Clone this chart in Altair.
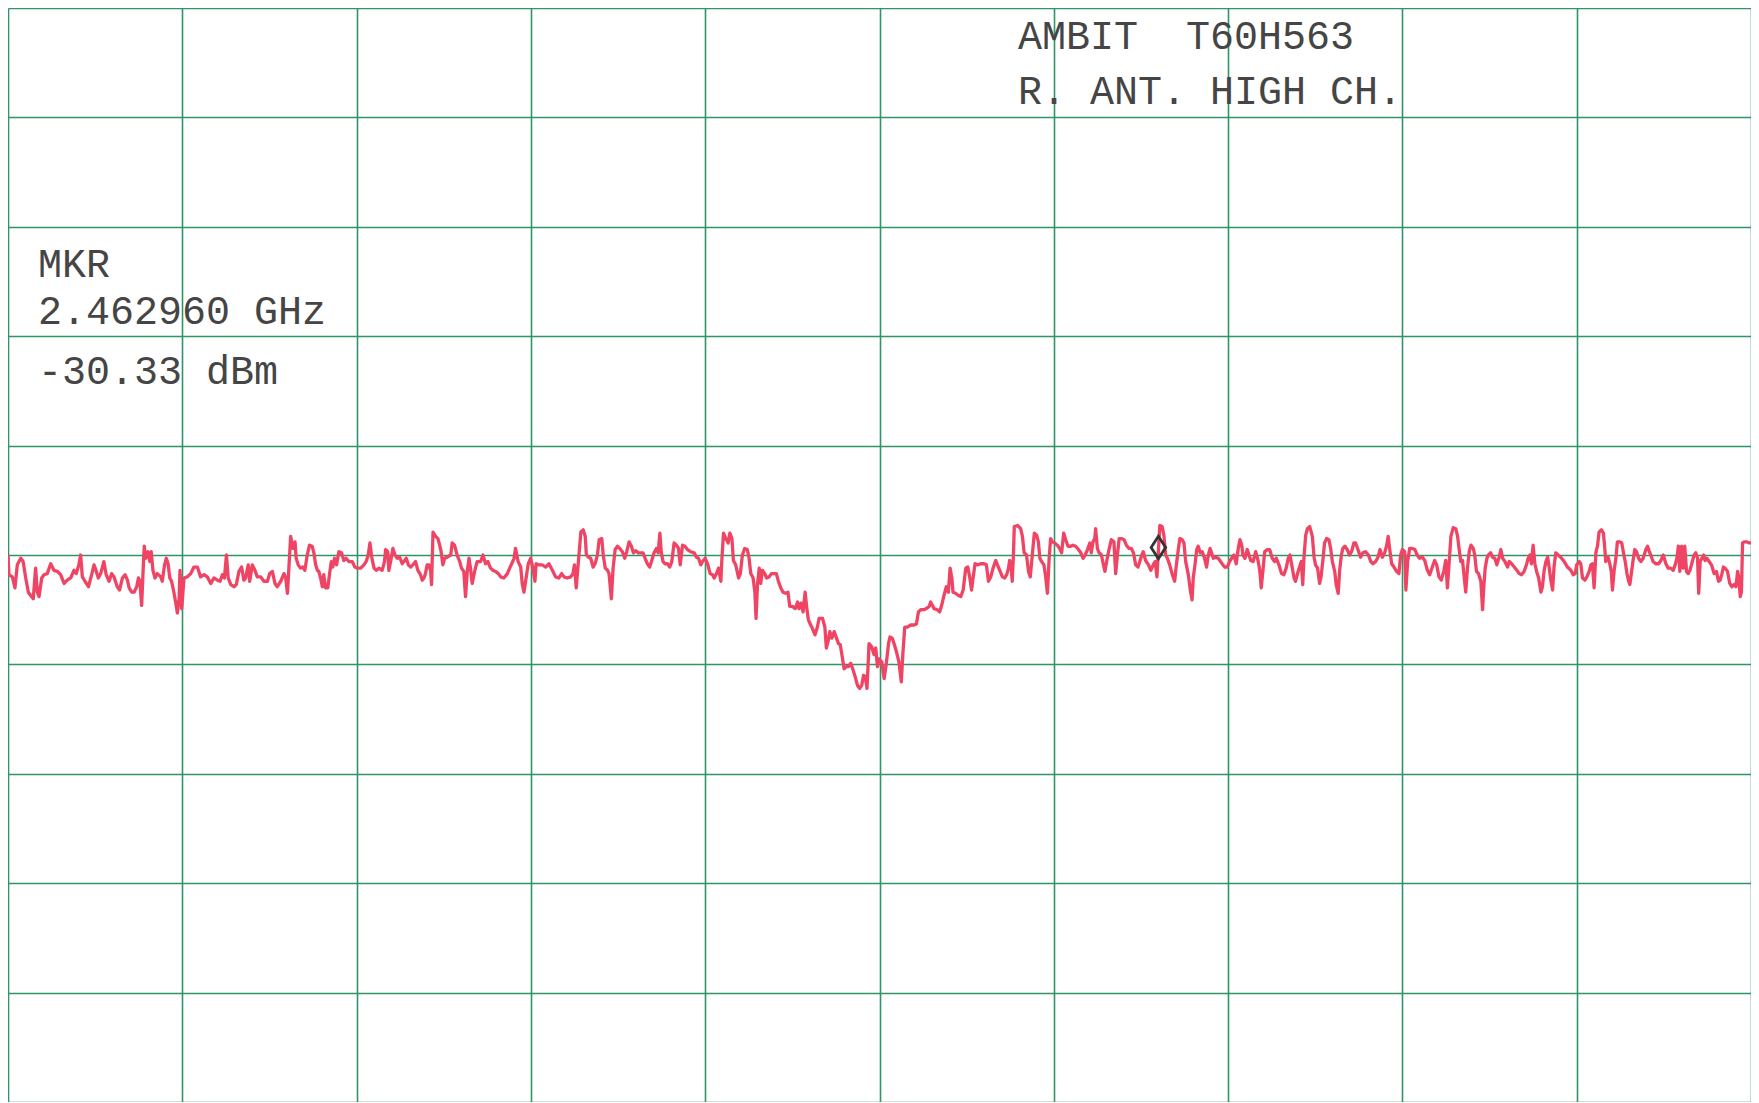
import altair as alt
import pandas as pd

# ---- trace data (frequency in MHz, level in dBm) ----
FREQ_1 = [2459.000, 2459.003, 2459.015, 2459.024, 2459.032, 2459.044, 2459.052, 2459.061, 2459.070, 2459.078,
          2459.087, 2459.095, 2459.101, 2459.107, 2459.116, 2459.124, 2459.135, 2459.147, 2459.158, 2459.170,
          2459.181, 2459.193, 2459.204, 2459.216, 2459.227, 2459.235, 2459.244, 2459.250, 2459.256, 2459.265,
          2459.277, 2459.288, 2459.296, 2459.304, 2459.311, 2459.319, 2459.330, 2459.338, 2459.348, 2459.357,
          2459.365, 2459.376, 2459.384, 2459.394, 2459.403, 2459.411, 2459.417, 2459.426, 2459.434, 2459.443,
          2459.449, 2459.454, 2459.460, 2459.465, 2459.469, 2459.474, 2459.482, 2459.488, 2459.493, 2459.499,
          2459.506, 2459.514, 2459.526, 2459.531, 2459.539, 2459.545, 2459.551, 2459.557, 2459.563, 2459.571,
          2459.577, 2459.583, 2459.589, 2459.592, 2459.598, 2459.606, 2459.617, 2459.629, 2459.640, 2459.652,
          2459.663, 2459.675, 2459.686, 2459.698, 2459.709, 2459.721, 2459.730, 2459.738, 2459.745, 2459.752,
          2459.758, 2459.767, 2459.778, 2459.786, 2459.795, 2459.804, 2459.812, 2459.818, 2459.827, 2459.832,
          2459.841, 2459.850, 2459.858, 2459.870, 2459.881, 2459.893, 2459.901, 2459.910, 2459.919, 2459.927,
          2459.939, 2459.950, 2459.956, 2459.962]
LEVEL_1 = [-30.0, -31.8, -32.0, -33.0, -30.9, -30.3, -30.6, -32.1, -33.4, -33.7,
           -34.0, -31.2, -33.4, -33.8, -32.1, -31.8, -31.7, -30.8, -31.4, -31.5,
           -31.8, -32.6, -32.3, -32.1, -31.4, -31.7, -30.9, -30.0, -32.0, -32.4,
           -32.9, -31.8, -30.9, -31.5, -32.1, -31.7, -30.6, -31.8, -32.4, -31.7,
           -32.0, -32.9, -33.2, -32.1, -31.8, -32.3, -33.0, -33.4, -33.4, -32.9,
           -32.1, -32.4, -34.6, -31.5, -29.2, -30.3, -29.7, -30.6, -29.7, -31.4,
           -32.1, -31.7, -32.0, -32.4, -30.9, -30.3, -30.8, -32.1, -32.4, -33.4,
           -34.3, -35.3, -34.0, -31.4, -34.9, -32.1, -32.0, -31.7, -31.1, -31.1,
           -32.0, -31.8, -32.0, -32.6, -32.1, -32.3, -32.4, -31.8, -32.1, -30.0,
           -32.1, -32.7, -32.9, -32.7, -31.5, -31.1, -32.3, -32.1, -30.9, -32.4,
           -30.9, -31.4, -32.0, -32.0, -32.4, -32.4, -31.7, -31.5, -32.6, -32.9,
           -32.4, -31.7, -32.1, -33.5]

FREQ_2 = [2459.973, 2459.981, 2459.988, 2459.992, 2459.999, 2460.007, 2460.015, 2460.022, 2460.030, 2460.038,
          2460.047, 2460.053, 2460.059, 2460.065, 2460.070, 2460.076, 2460.082, 2460.087, 2460.093, 2460.101,
          2460.107, 2460.113, 2460.118, 2460.124, 2460.131, 2460.139, 2460.148, 2460.156, 2460.164, 2460.174,
          2460.185, 2460.194, 2460.202, 2460.214, 2460.225, 2460.233, 2460.240, 2460.246, 2460.252, 2460.260,
          2460.268, 2460.277, 2460.288, 2460.296, 2460.300, 2460.307, 2460.311, 2460.317, 2460.325, 2460.332,
          2460.340, 2460.348, 2460.357, 2460.363, 2460.371, 2460.378, 2460.386, 2460.394, 2460.403, 2460.411,
          2460.420, 2460.426, 2460.432, 2460.437, 2460.443, 2460.449, 2460.455, 2460.458, 2460.463, 2460.472,
          2460.480, 2460.486, 2460.491, 2460.497, 2460.503, 2460.512, 2460.524, 2460.529, 2460.537, 2460.546,
          2460.555, 2460.561, 2460.569, 2460.575, 2460.581, 2460.587, 2460.592, 2460.598, 2460.607, 2460.615,
          2460.627, 2460.635, 2460.644, 2460.652, 2460.661, 2460.669, 2460.678, 2460.688, 2460.696, 2460.707,
          2460.719, 2460.727, 2460.734, 2460.742, 2460.747, 2460.756, 2460.765, 2460.770, 2460.776, 2460.784,
          2460.791, 2460.799, 2460.807, 2460.814, 2460.818, 2460.828, 2460.839, 2460.851, 2460.862, 2460.874,
          2460.885, 2460.896, 2460.906, 2460.914, 2460.925, 2460.937, 2460.945, 2460.950, 2460.956]
LEVEL_2 = [-28.3, -29.4, -28.8, -30.3, -30.9, -31.2, -31.1, -31.4, -30.0, -29.1,
           -29.2, -29.8, -30.9, -31.4, -31.5, -32.1, -32.9, -31.8, -33.0, -33.0,
           -31.7, -30.6, -31.1, -30.3, -30.9, -29.7, -29.8, -30.5, -30.3, -30.6,
           -30.6, -31.1, -31.2, -31.2, -30.9, -30.6, -30.0, -28.9, -30.2, -31.2,
           -31.4, -31.2, -31.4, -30.6, -29.5, -29.7, -31.4, -30.6, -29.4, -30.0,
           -30.3, -30.2, -30.8, -30.6, -30.3, -30.9, -31.1, -30.9, -30.6, -31.4,
           -31.8, -32.3, -32.1, -31.7, -30.9, -30.9, -31.5, -32.7, -27.9, -28.3,
           -28.5, -29.1, -29.7, -30.9, -30.3, -30.2, -30.0, -28.9, -29.1, -30.0,
           -30.6, -31.2, -31.5, -33.8, -31.5, -30.3, -31.2, -32.6, -31.4, -30.6,
           -30.6, -30.0, -30.8, -30.6, -31.2, -31.4, -31.5, -31.7, -32.0, -32.1,
           -31.7, -31.2, -30.8, -30.3, -29.4, -30.6, -31.1, -32.6, -33.4, -32.0,
           -30.8, -30.3, -31.2, -32.4, -30.8, -30.9, -30.9, -31.1, -30.8, -31.4,
           -32.0, -32.1, -31.7, -32.0, -32.1, -32.0, -31.7, -30.9, -33.0]

FREQ_3 = [2460.972, 2460.980, 2460.987, 2460.991, 2460.998, 2461.006, 2461.014, 2461.021, 2461.029, 2461.035,
          2461.044, 2461.049, 2461.056, 2461.064, 2461.069, 2461.077, 2461.083, 2461.090, 2461.098, 2461.106,
          2461.115, 2461.123, 2461.130, 2461.138, 2461.146, 2461.153, 2461.161, 2461.169, 2461.178, 2461.186,
          2461.193, 2461.201, 2461.209, 2461.216, 2461.224, 2461.232, 2461.238, 2461.244, 2461.249, 2461.255,
          2461.262, 2461.270, 2461.278, 2461.285, 2461.293, 2461.301, 2461.308, 2461.314, 2461.322, 2461.330,
          2461.339, 2461.350, 2461.362, 2461.370, 2461.377, 2461.385, 2461.391, 2461.400, 2461.408, 2461.417,
          2461.425, 2461.431, 2461.439, 2461.446, 2461.454, 2461.457, 2461.463, 2461.471, 2461.479, 2461.485,
          2461.492, 2461.497, 2461.505, 2461.515, 2461.521, 2461.528, 2461.536, 2461.545, 2461.551, 2461.557,
          2461.565, 2461.571, 2461.575, 2461.580, 2461.586, 2461.591, 2461.597, 2461.605, 2461.611, 2461.620,
          2461.628, 2461.637, 2461.645, 2461.652, 2461.660, 2461.668, 2461.677, 2461.685, 2461.691, 2461.700,
          2461.710, 2461.718, 2461.723, 2461.730, 2461.737, 2461.744, 2461.750, 2461.755, 2461.763, 2461.769,
          2461.778, 2461.786, 2461.792, 2461.804, 2461.812, 2461.817, 2461.823, 2461.829, 2461.836, 2461.844,
          2461.852, 2461.859, 2461.865, 2461.873, 2461.878, 2461.886, 2461.893, 2461.901, 2461.909, 2461.916,
          2461.924, 2461.932, 2461.939, 2461.945, 2461.951, 2461.957]
LEVEL_3 = [-27.9, -27.7, -28.3, -30.0, -30.2, -30.3, -31.1, -30.8, -30.0, -28.6,
           -28.5, -30.0, -31.2, -31.4, -31.7, -34.0, -31.2, -29.5, -29.2, -29.4,
           -29.7, -30.3, -29.7, -28.8, -29.2, -29.8, -29.6, -29.8, -29.8, -29.8,
           -30.3, -30.8, -31.1, -30.5, -29.8, -29.4, -29.8, -28.0, -29.8, -30.6,
           -30.8, -30.8, -31.1, -30.6, -28.9, -29.1, -29.4, -30.9, -29.1, -29.2,
           -29.5, -29.7, -29.8, -30.2, -30.3, -30.9, -30.6, -30.3, -30.8, -31.7,
           -31.8, -32.1, -31.7, -31.2, -32.4, -30.6, -28.0, -28.5, -28.9, -28.0,
           -28.5, -30.5, -30.9, -32.1, -31.7, -30.0, -29.4, -29.5, -30.3, -31.7,
           -32.1, -33.4, -35.8, -32.7, -31.2, -32.6, -31.4, -31.7, -32.1, -32.0,
           -31.7, -31.7, -31.7, -32.4, -33.0, -33.4, -33.5, -33.4, -34.7, -34.7,
           -34.9, -34.3, -34.9, -34.4, -35.2, -33.4, -34.9, -35.9, -36.4, -36.7,
           -37.3, -36.6, -35.8, -35.8, -36.6, -38.5, -37.9, -37.0, -37.6, -37.0,
           -37.6, -38.1, -38.2, -39.5, -40.4, -40.2, -40.2, -39.9, -40.5, -41.1,
           -41.9, -42.2, -41.9, -41.0, -41.1, -42.2]

FREQ_4 = [2461.964, 2461.973, 2461.981, 2461.987, 2461.993, 2461.998, 2462.008, 2462.016, 2462.024, 2462.031,
          2462.036, 2462.044, 2462.050, 2462.058, 2462.067, 2462.075, 2462.081, 2462.087, 2462.096, 2462.107,
          2462.119, 2462.127, 2462.134, 2462.142, 2462.153, 2462.161, 2462.171, 2462.176, 2462.182, 2462.188,
          2462.199, 2462.207, 2462.214, 2462.222, 2462.230, 2462.237, 2462.243, 2462.249, 2462.253, 2462.262,
          2462.272, 2462.280, 2462.288, 2462.297, 2462.304, 2462.311, 2462.317, 2462.322, 2462.329, 2462.337,
          2462.348, 2462.360, 2462.368, 2462.375, 2462.383, 2462.391, 2462.400, 2462.406, 2462.414, 2462.423,
          2462.431, 2462.438, 2462.444, 2462.448, 2462.453, 2462.457, 2462.461, 2462.464, 2462.475, 2462.486,
          2462.492, 2462.498, 2462.506, 2462.513, 2462.519, 2462.526, 2462.533, 2462.541, 2462.547, 2462.552,
          2462.558, 2462.566, 2462.572, 2462.578, 2462.584, 2462.589, 2462.595, 2462.603, 2462.612, 2462.620,
          2462.627, 2462.634, 2462.641, 2462.649, 2462.658, 2462.666, 2462.675, 2462.685, 2462.693, 2462.701,
          2462.708, 2462.716, 2462.724, 2462.729, 2462.735, 2462.741, 2462.744, 2462.750, 2462.756, 2462.764,
          2462.770, 2462.776, 2462.784, 2462.790, 2462.798, 2462.807, 2462.813, 2462.819, 2462.825, 2462.833,
          2462.842, 2462.850, 2462.859, 2462.867, 2462.874, 2462.882, 2462.890, 2462.896, 2462.903, 2462.908,
          2462.916, 2462.926, 2462.934, 2462.942, 2462.949, 2462.955]
LEVEL_4 = [-38.1, -38.4, -39.1, -38.5, -40.2, -39.5, -39.8, -41.3, -39.8, -38.1,
           -37.5, -37.6, -38.1, -38.8, -39.8, -41.6, -38.8, -36.6, -36.6, -36.4,
           -36.4, -36.3, -35.2, -35.0, -35.0, -34.9, -34.7, -34.3, -34.6, -34.9,
           -35.0, -35.2, -34.6, -33.7, -32.9, -33.4, -31.2, -32.1, -33.4, -33.5,
           -33.7, -33.8, -33.2, -31.2, -31.1, -32.1, -33.2, -32.1, -30.8, -30.9,
           -30.8, -30.8, -30.9, -32.4, -32.0, -31.2, -30.5, -30.9, -31.4, -32.0,
           -32.1, -31.8, -31.2, -30.5, -31.1, -32.4, -30.0, -27.4, -27.3, -27.6,
           -28.3, -29.8, -30.0, -31.5, -32.0, -30.0, -28.0, -28.2, -28.8, -30.3,
           -30.6, -30.9, -32.0, -33.5, -30.3, -28.5, -28.8, -28.9, -29.1, -29.4,
           -29.8, -28.0, -28.6, -29.2, -29.2, -29.1, -29.2, -29.5, -29.8, -30.3,
           -30.0, -29.5, -28.9, -29.8, -28.8, -28.5, -27.6, -29.4, -29.8, -30.0,
           -30.8, -31.5, -30.3, -29.5, -28.6, -28.8, -31.7, -30.0, -28.5, -28.5,
           -28.6, -29.1, -29.4, -29.4, -29.8, -30.9, -31.1, -30.6, -30.0, -29.7,
           -30.5, -30.9, -31.4, -30.9, -30.6, -32.0]

FREQ_5 = [2462.965, 2462.973, 2462.979, 2462.985, 2462.991, 2462.999, 2463.008, 2463.016, 2463.022, 2463.029,
          2463.034, 2463.042, 2463.048, 2463.054, 2463.063, 2463.071, 2463.076, 2463.080, 2463.086, 2463.092,
          2463.097, 2463.104, 2463.111, 2463.119, 2463.126, 2463.132, 2463.138, 2463.143, 2463.149, 2463.157,
          2463.166, 2463.174, 2463.182, 2463.189, 2463.197, 2463.205, 2463.212, 2463.220, 2463.228, 2463.235,
          2463.241, 2463.247, 2463.251, 2463.258, 2463.266, 2463.272, 2463.278, 2463.286, 2463.295, 2463.303,
          2463.309, 2463.314, 2463.320, 2463.326, 2463.335, 2463.343, 2463.352, 2463.360, 2463.366, 2463.375,
          2463.384, 2463.392, 2463.400, 2463.407, 2463.413, 2463.419, 2463.427, 2463.432, 2463.439, 2463.446,
          2463.452, 2463.457, 2463.461, 2463.467, 2463.473, 2463.481, 2463.490, 2463.496, 2463.501, 2463.508,
          2463.515, 2463.520, 2463.527, 2463.532, 2463.539, 2463.547, 2463.553, 2463.559, 2463.567, 2463.572,
          2463.579, 2463.584, 2463.590, 2463.595, 2463.602, 2463.610, 2463.618, 2463.625, 2463.633, 2463.639,
          2463.647, 2463.656, 2463.664, 2463.673, 2463.683, 2463.691, 2463.699, 2463.708, 2463.716, 2463.723,
          2463.731, 2463.739, 2463.746, 2463.751, 2463.756, 2463.763, 2463.771, 2463.780, 2463.788, 2463.794,
          2463.800, 2463.808, 2463.812, 2463.818, 2463.825, 2463.834, 2463.843, 2463.851, 2463.859, 2463.869,
          2463.877, 2463.886, 2463.894, 2463.903, 2463.911, 2463.918, 2463.926, 2463.934, 2463.943, 2463.949,
          2463.955]
LEVEL_5 = [-27.3, -27.4, -28.2, -30.0, -30.3, -30.9, -31.8, -32.4, -30.9, -29.4,
           -28.5, -28.6, -28.9, -30.6, -31.8, -33.4, -34.1, -32.1, -30.9, -29.5,
           -29.2, -29.8, -29.7, -30.3, -31.1, -30.0, -29.4, -29.8, -30.3, -30.2,
           -30.3, -30.6, -30.9, -31.1, -31.1, -30.6, -30.3, -30.0, -30.8, -29.4,
           -28.6, -29.1, -30.0, -30.3, -29.5, -30.0, -30.5, -30.6, -29.7, -30.5,
           -31.4, -33.0, -31.4, -29.7, -29.5, -29.5, -30.3, -30.6, -30.3, -30.9,
           -31.7, -31.8, -31.2, -30.3, -30.0, -30.9, -32.1, -32.4, -31.7, -31.1,
           -30.6, -32.7, -30.3, -28.2, -27.6, -27.4, -28.3, -30.2, -30.9, -31.2,
           -32.6, -32.0, -30.3, -28.9, -28.5, -28.6, -29.4, -30.6, -31.5, -32.7,
           -33.5, -31.4, -30.0, -29.4, -29.2, -29.5, -30.0, -29.7, -28.9, -28.9,
           -29.5, -30.2, -29.8, -29.7, -30.0, -30.6, -30.8, -30.6, -30.2, -29.5,
           -30.2, -29.8, -29.1, -28.3, -29.4, -30.8, -31.1, -31.5, -31.7, -30.0,
           -29.5, -29.7, -33.2, -30.6, -29.4, -29.4, -29.5, -30.0, -30.3, -30.2,
           -30.5, -31.4, -31.8, -31.1, -30.5, -30.9, -32.0, -32.3, -31.4, -30.5,
           -33.0]

FREQ_6 = [2463.967, 2463.975, 2463.984, 2463.990, 2463.995, 2464.001, 2464.007, 2464.013, 2464.018, 2464.024,
          2464.030, 2464.036, 2464.044, 2464.049, 2464.055, 2464.062, 2464.070, 2464.076, 2464.080, 2464.085,
          2464.091, 2464.096, 2464.104, 2464.110, 2464.118, 2464.125, 2464.133, 2464.139, 2464.145, 2464.153,
          2464.162, 2464.168, 2464.176, 2464.185, 2464.194, 2464.202, 2464.210, 2464.219, 2464.227, 2464.233,
          2464.239, 2464.244, 2464.250, 2464.256, 2464.262, 2464.269, 2464.277, 2464.282, 2464.288, 2464.294,
          2464.300, 2464.305, 2464.311, 2464.317, 2464.322, 2464.328, 2464.336, 2464.345, 2464.357, 2464.368,
          2464.380, 2464.388, 2464.395, 2464.400, 2464.409, 2464.414, 2464.420, 2464.428, 2464.435, 2464.443,
          2464.449, 2464.454, 2464.460, 2464.466, 2464.472, 2464.477, 2464.485, 2464.492, 2464.497, 2464.500,
          2464.508, 2464.514, 2464.519, 2464.523, 2464.529, 2464.535, 2464.540, 2464.549, 2464.555, 2464.561,
          2464.567, 2464.573, 2464.578, 2464.583, 2464.589, 2464.594, 2464.600, 2464.606, 2464.613, 2464.621,
          2464.629, 2464.638, 2464.644, 2464.650, 2464.655, 2464.663, 2464.672, 2464.682, 2464.690, 2464.698,
          2464.707, 2464.715, 2464.724, 2464.732, 2464.739, 2464.745, 2464.750, 2464.755, 2464.761, 2464.767,
          2464.772, 2464.778, 2464.784, 2464.790, 2464.796, 2464.804, 2464.810, 2464.816, 2464.820, 2464.825,
          2464.831, 2464.837, 2464.842, 2464.848, 2464.856, 2464.864, 2464.873, 2464.881, 2464.888, 2464.894,
          2464.900, 2464.905, 2464.911, 2464.919, 2464.927, 2464.934, 2464.942, 2464.948, 2464.954, 2464.958,
          2464.963, 2464.967, 2464.971, 2464.977, 2464.986, 2464.994, 2465.000]
LEVEL_6 = [-28.3, -27.5, -27.6, -28.3, -29.4, -30.6, -30.5, -32.1, -33.4, -31.2,
           -29.7, -29.1, -29.4, -30.0, -31.5, -31.7, -32.4, -35.0, -33.0, -31.2,
           -30.3, -30.0, -29.8, -30.2, -30.3, -30.9, -30.2, -29.5, -30.3, -30.6,
           -31.1, -30.6, -30.8, -31.1, -31.4, -31.7, -31.8, -31.5, -30.9, -30.3,
           -30.0, -30.8, -29.1, -30.8, -31.5, -32.1, -33.4, -32.9, -31.4, -30.6,
           -30.2, -31.1, -32.3, -33.2, -31.1, -29.8, -30.0, -30.2, -30.6, -31.1,
           -31.4, -31.8, -31.7, -30.9, -30.6, -30.8, -32.1, -32.3, -32.0, -31.5,
           -30.9, -30.8, -33.0, -29.8, -29.1, -27.9, -27.7, -28.0, -29.5, -30.6,
           -30.2, -30.8, -31.5, -33.2, -31.4, -30.3, -28.8, -28.8, -28.9, -29.8,
           -30.6, -31.7, -32.3, -32.7, -31.5, -30.5, -29.5, -29.7, -30.3, -30.6,
           -30.3, -29.5, -29.2, -29.7, -30.0, -30.6, -30.8, -30.8, -30.5, -30.0,
           -30.8, -31.2, -31.2, -31.4, -30.9, -30.3, -29.2, -31.5, -29.2, -31.2,
           -29.2, -31.5, -31.7, -31.4, -30.8, -30.0, -29.8, -30.3, -33.5, -30.6,
           -30.3, -30.0, -30.5, -30.3, -30.6, -30.9, -31.7, -31.5, -32.4, -32.3,
           -31.7, -31.1, -31.2, -31.5, -32.6, -32.9, -32.7, -32.9, -31.5, -32.1,
           -33.8, -33.4, -28.9, -28.8, -28.8, -28.9, -28.9]

# ---- marker ----
MARKER_FREQ = [2462.96]
MARKER_LEVEL = [-30.33]

# ---- grid (graticule) positions ----
FREQ_GRID = [2459.0, 2459.6, 2460.2, 2460.8, 2461.4, 2462.0, 2462.6, 2463.2, 2463.8, 2464.4, 2465.0]
LEVEL_GRID = [-80, -70, -60, -50, -40, -30, -20, -10, 0, 10, 20]

# ---- annotation text ----
TITLE_LINES = ["AMBIT\u00a0\u00a0T60H563", "R. ANT. HIGH CH."]
MARKER_LINES = ["MKR", "2.462960 GHz", "-30.33 dBm"]

freqs = FREQ_1 + FREQ_2 + FREQ_3 + FREQ_4 + FREQ_5 + FREQ_6
levels = LEVEL_1 + LEVEL_2 + LEVEL_3 + LEVEL_4 + LEVEL_5 + LEVEL_6
trace_df = pd.DataFrame({"freq": freqs, "level": levels})
marker_df = pd.DataFrame({"freq": MARKER_FREQ, "level": MARKER_LEVEL})

W, H = 1743, 1094
GRID_COLOR = "#2f9466"
TRACE_COLOR = "#ef4464"
TEXT_COLOR = "#454545"
FONT = "Liberation Mono"

x_enc = alt.X("freq:Q",
              scale=alt.Scale(domain=[2459.0, 2465.0], nice=False, zero=False),
              axis=alt.Axis(values=FREQ_GRID, grid=True, gridColor=GRID_COLOR, gridWidth=1.6,
                            gridOpacity=1, labels=False, ticks=False, domain=False, title=None))
y_enc = alt.Y("level:Q",
              scale=alt.Scale(domain=[-80, 20], nice=False, zero=False),
              axis=alt.Axis(values=LEVEL_GRID, grid=True, gridColor=GRID_COLOR, gridWidth=1.6,
                            gridOpacity=1, labels=False, ticks=False, domain=False, title=None))

trace = alt.Chart(trace_df).mark_line(
    color=TRACE_COLOR, strokeWidth=3.3, strokeJoin="round", interpolate="linear"
).encode(x=x_enc, y=y_enc, order="freq:Q")

marker = alt.Chart(marker_df).mark_point(
    shape="M0,-2L0.65,-1L0,0L-0.65,-1Z", size=500, filled=False,
    color="#333333", strokeWidth=2.8, opacity=1
).encode(x=alt.X("freq:Q"), y=alt.Y("level:Q"))


def text_layer(lines, x, y0, dy):
    layers = []
    for i, t in enumerate(lines):
        layers.append(
            alt.Chart(pd.DataFrame({"t": [t]})).mark_text(
                align="left", baseline="alphabetic", font=FONT, fontSize=40,
                color=TEXT_COLOR
            ).encode(x=alt.value(x), y=alt.value(y0 + dy[i]), text="t:N")
        )
    return layers


title_layers = text_layer(TITLE_LINES, 1010, 41, [0, 55])
mkr_layers = text_layer(MARKER_LINES, 30, 269, [0, 47, 107])

chart = alt.layer(trace, marker, *title_layers, *mkr_layers).properties(
    width=W, height=H, padding=0, autosize=alt.AutoSizeParams(type="none"),
    background="white"
).configure_view(stroke=None)

chart.save("out.html", embed_options={"renderer": "svg", "actions": False})
